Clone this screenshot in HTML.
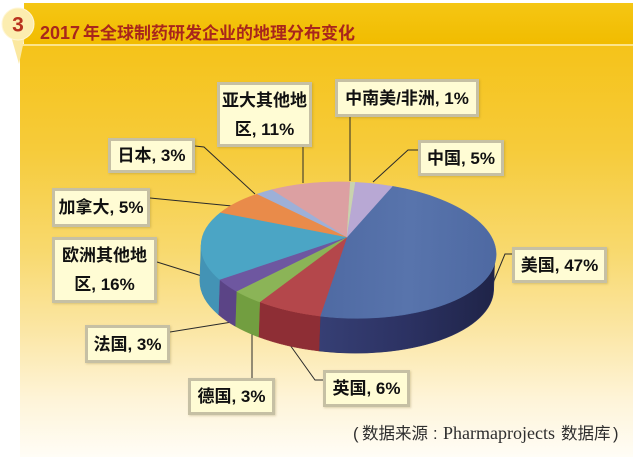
<!DOCTYPE html>
<html><head><meta charset="utf-8">
<style>
html,body{margin:0;padding:0;}
body{width:633px;height:457px;overflow:hidden;position:relative;background:#fff;font-family:"Liberation Sans","Noto Sans CJK SC",sans-serif;}
.box{position:absolute;box-sizing:border-box;background:#FFFCD4;border:3px solid #C6C0A4;display:flex;flex-direction:column;align-items:center;justify-content:center;font-weight:bold;font-size:17px;color:#111;line-height:29px;white-space:nowrap;box-shadow:1px 1px 2px rgba(120,100,40,0.25);}
</style></head><body>
<svg width="633" height="457" style="position:absolute;left:0;top:0" xmlns="http://www.w3.org/2000/svg">
<defs>
 <linearGradient id="bg" x1="0" y1="0" x2="0" y2="1">
  <stop offset="0" stop-color="#F5C31A"/>
  <stop offset="0.25" stop-color="#F6CB3A"/>
  <stop offset="0.5" stop-color="#F8D96E"/>
  <stop offset="0.69" stop-color="#FBE6A4"/>
  <stop offset="0.86" stop-color="#FEF4D8"/>
  <stop offset="1" stop-color="#FFFDF6"/>
 </linearGradient>
 <linearGradient id="hdr" x1="0" y1="0" x2="0" y2="1">
  <stop offset="0" stop-color="#F5C614"/>
  <stop offset="1" stop-color="#F1BC00"/>
 </linearGradient>
 <linearGradient id="blueTop" x1="0" y1="0" x2="1" y2="0">
  <stop offset="0" stop-color="#4F6AA3"/>
  <stop offset="0.5" stop-color="#5874AC"/>
  <stop offset="1" stop-color="#4E69A2"/>
 </linearGradient>
 <linearGradient id="blueSide" x1="0" y1="0" x2="1" y2="0">
  <stop offset="0" stop-color="#363F74"/>
  <stop offset="0.5" stop-color="#2C3263"/>
  <stop offset="1" stop-color="#1F2448"/>
 </linearGradient>
</defs>
<rect x="0" y="0" width="633" height="457" fill="#fff"/>
<rect x="20" y="46" width="613" height="411" fill="url(#bg)"/>
<rect x="24" y="3" width="609" height="41" fill="url(#hdr)"/>
<rect x="20" y="44" width="613" height="2" fill="#FCE48A"/>
<polygon points="11,36 25,36 19,64" fill="#FBE8A0"/>
<circle cx="18" cy="24" r="16" fill="#FCEDB0" stroke="#FFF6D6" stroke-width="1"/>
<text x="18" y="31.5" text-anchor="middle" style="font-family:'Liberation Sans',sans-serif;font-weight:bold;font-size:21px" fill="#B8321E">3</text>
<text x="40" y="39" style="font-family:'Liberation Sans','Noto Sans CJK SC',sans-serif;font-weight:bold" fill="#A8261C"><tspan font-size="18">2017 </tspan><tspan x="83" font-size="17">年全球制药研发企业的地理分布变化</tspan></text>

<!-- leader lines -->
<g stroke="#2a2a2a" stroke-width="1" fill="none">
 <path d="M303 147 L303 183"/>
 <path d="M350 117 L350 181"/>
 <path d="M418 150 L408 150 L373 182"/>
 <path d="M195 146 L204 147 L255 194"/>
 <path d="M150 198 L232 206"/>
 <path d="M157 262 L205 277"/>
 <path d="M170 332 L232 322"/>
 <path d="M252 330 L252 378"/>
 <path d="M290 345 L315 380 L323 380"/>
 <path d="M512 254 L505 254 L493 283"/>
</g>

<g transform="rotate(2 348 250)" stroke-linejoin="round">
 <!-- sides -->
 <path d="M495 250 A147 68 0 0 1 322.5 317 L322.5 352 A147 68 0 0 0 495 285 Z" fill="url(#blueSide)" stroke="#2C3263" stroke-width="0.5"/>
 <path d="M322.5 317 A147 68 0 0 1 261.6 305 L261.6 340 A147 68 0 0 0 322.5 352 Z" fill="#8E2E35" stroke="#8E2E35" stroke-width="0.5"/>
 <path d="M261.6 305 A147 68 0 0 1 237.9 295.1 L237.9 330.1 A147 68 0 0 0 261.6 340 Z" fill="#729E40" stroke="#729E40" stroke-width="0.5"/>
 <path d="M237.9 295.1 A147 68 0 0 1 220.7 284 L220.7 319 A147 68 0 0 0 237.9 330.1 Z" fill="#5B4486" stroke="#5B4486" stroke-width="0.5"/>
 <path d="M220.7 284 A147 68 0 0 1 201 250 L201 285 A147 68 0 0 0 220.7 319 Z" fill="#4393B5" stroke="#4393B5" stroke-width="0.5"/>
 <!-- top -->
 <path d="M346.5 237 L390 184.8 A147 68 0 0 1 322.5 317 Z" fill="url(#blueTop)" stroke="#5370A8" stroke-width="0.5"/>
 <path d="M346.5 237 L322.5 317 A147 68 0 0 1 261.6 305 Z" fill="#B4474B" stroke="#B4474B" stroke-width="0.5"/>
 <path d="M346.5 237 L261.6 305 A147 68 0 0 1 237.9 295.1 Z" fill="#8BB457" stroke="#8BB457" stroke-width="0.5"/>
 <path d="M346.5 237 L237.9 295.1 A147 68 0 0 1 220.7 284 Z" fill="#6E57A0" stroke="#6E57A0" stroke-width="0.5"/>
 <path d="M346.5 237 L220.7 284 A147 68 0 0 1 219.4 217 Z" fill="#4BA5C5" stroke="#4BA5C5" stroke-width="0.5"/>
 <path d="M346.5 237 L219.4 217 A147 68 0 0 1 255.5 197.2 Z" fill="#E98B4A" stroke="#E98B4A" stroke-width="0.5"/>
 <path d="M346.5 237 L255.5 197.2 A147 68 0 0 1 270.1 192.3 Z" fill="#9DB0D8" stroke="#9DB0D8" stroke-width="0.5"/>
 <path d="M346.5 237 L270.1 192.3 A147 68 0 0 1 348 182 Z" fill="#DCA0A2" stroke="#DCA0A2" stroke-width="0.5"/>
 <path d="M346.5 237 L348 182 A147 68 0 0 1 353.1 182 Z" fill="#C9D3AE" stroke="#C9D3AE" stroke-width="0.5"/>
 <path d="M346.5 237 L353.1 182 A147 68 0 0 1 390 184.8 Z" fill="#B8A8D4" stroke="#B8A8D4" stroke-width="0.5"/>
</g>

<!-- source -->
<g fill="#2e2e2e" style="font-family:'Liberation Sans','Noto Sans CJK SC',sans-serif;font-size:16.5px">
 <text x="353" y="439">(</text>
 <text x="362" y="439">数据来源</text>
 <text x="433" y="439">:</text>
 <text x="443" y="439" style="font-family:'Liberation Serif',serif;font-size:18px">Pharmaprojects</text>
 <text x="561" y="439">数据库</text>
 <text x="613" y="439">)</text>
</g>
</svg>

<div class="box" style="left:217px;top:82px;width:95px;height:65px;"><div>亚大其他地</div><div>区, 11%</div></div>
<div class="box" style="left:335px;top:79px;width:144px;height:38px;">中南美/非洲, 1%</div>
<div class="box" style="left:418px;top:140px;width:86px;height:36px;">中国, 5%</div>
<div class="box" style="left:108px;top:138px;width:87px;height:35px;">日本, 3%</div>
<div class="box" style="left:52px;top:188px;width:98px;height:39px;">加拿大, 5%</div>
<div class="box" style="left:52px;top:237px;width:105px;height:66px;"><div>欧洲其他地</div><div>区, 16%</div></div>
<div class="box" style="left:85px;top:325px;width:85px;height:38px;">法国, 3%</div>
<div class="box" style="left:188px;top:378px;width:87px;height:37px;">德国, 3%</div>
<div class="box" style="left:323px;top:370px;width:87px;height:37px;">英国, 6%</div>
<div class="box" style="left:512px;top:247px;width:95px;height:36px;">美国, 47%</div>
</body></html>
